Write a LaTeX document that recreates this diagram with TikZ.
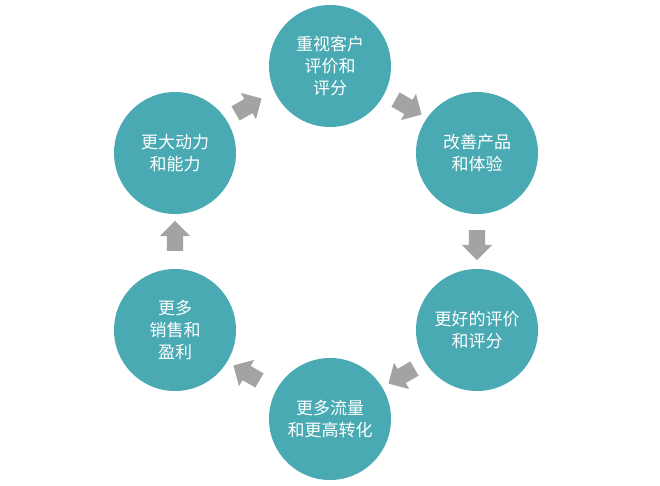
\documentclass[tikz,border=0pt]{standalone}
\usepackage{fontspec}
\setmainfont{Noto Sans CJK SC}
\usetikzlibrary{shapes.arrows}
\definecolor{teal1}{HTML}{4AAAB3}
\definecolor{arr}{HTML}{A3A3A3}
\tikzset{
 bub/.style={circle,fill=teal1,minimum size=122pt,text=white,font=\fontsize{17}{22}\selectfont,align=center,inner sep=0pt},
 blk/.style={single arrow,fill=arr,minimum height=30pt,inner xsep=0pt,inner ysep=8pt,single arrow head extend=7pt,single arrow tip angle=90}
}
\begin{document}
\begin{tikzpicture}[x=1pt,y=-1pt]
\useasboundingbox (0,0) rectangle (660,485);
\node[bub] (a) at (330,66) {重视客户\\评价和\\评分};
\node[bub] (b) at (477,153) {改善产品\\和体验};
\node[bub] (c) at (477,330) {更好的评价\\和评分};
\node[bub] (d) at (330,419) {更多流量\\和更高转化};
\node[bub] (e) at (175,330) {更多\\销售和\\盈利};
\node[bub] (f) at (175,153) {更大动力\\和能力};
\node[blk,rotate=30] (g1) at (245,108) {};
\node[blk,rotate=-30] (g2) at (405,105) {};
\node[blk,rotate=-90] (g3) at (477,241) {};
\node[blk,rotate=-150] (g4) at (405,374) {};
\node[blk,rotate=150] (g5) at (250,375) {};
\node[blk,rotate=90] (g6) at (175,240) {};
\end{tikzpicture}
\end{document}
